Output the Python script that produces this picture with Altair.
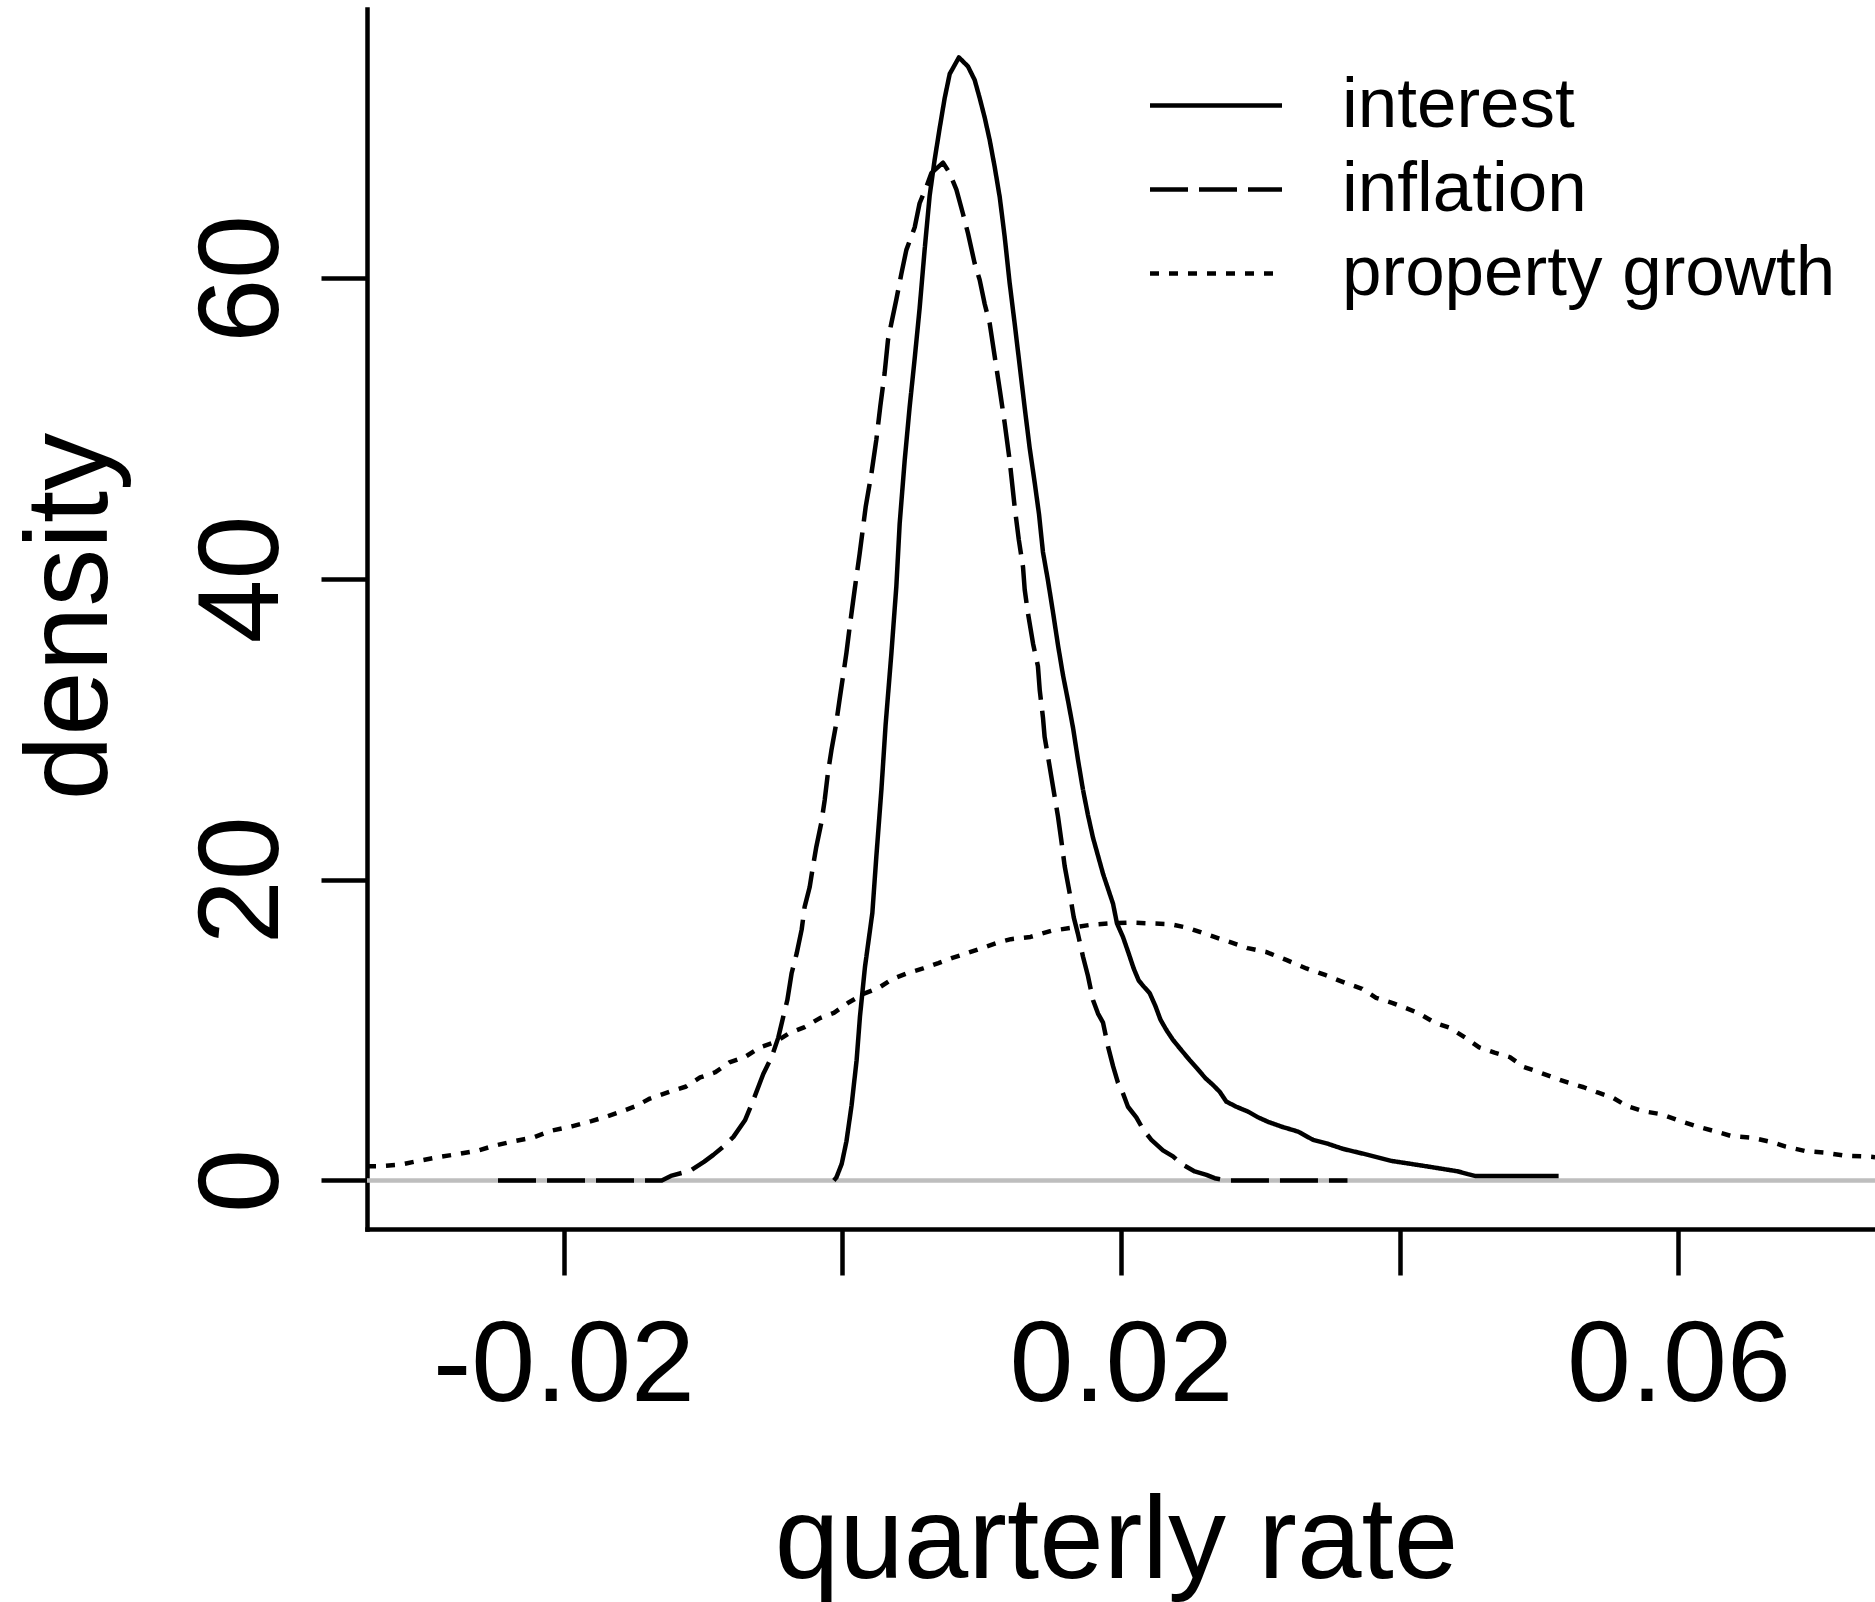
import altair as alt
import pandas as pd

# Kernel density estimates of quarterly rates: (rate, density) pairs per series
interest = [
    (-0.0006, 0.0), (-0.00042, 0.2), (-0.00004, 1.1), (0.0003, 2.6), (0.00067, 5.0),
    (0.00103, 8.0), (0.00127, 10.9), (0.00163, 14.2), (0.00216, 17.8), (0.00245, 21.6),
    (0.00281, 26.0), (0.00311, 30.3), (0.00352, 35.0), (0.00388, 39.5), (0.00412, 43.7),
    (0.00448, 47.9), (0.00483, 51.4), (0.0052, 54.7), (0.00555, 58.0), (0.00591, 61.9),
    (0.00627, 65.5), (0.00663, 67.9), (0.00699, 70.0), (0.00735, 72.0), (0.00771, 73.6),
    (0.00837, 74.7), (0.00902, 74.1), (0.0095, 73.2), (0.00986, 72.0), (0.01022, 70.7),
    (0.01058, 69.2), (0.01094, 67.4), (0.0113, 65.4), (0.01165, 62.8), (0.01201, 59.7),
    (0.01237, 57.0), (0.01273, 54.2), (0.01309, 51.4), (0.01345, 48.7), (0.01381, 46.4),
    (0.01412, 44.3), (0.0144, 41.8), (0.01476, 39.9), (0.01512, 37.8), (0.01548, 35.6),
    (0.01584, 33.6), (0.0162, 31.9), (0.01656, 30.1), (0.01691, 28.0), (0.01727, 26.0),
    (0.01763, 24.3), (0.01799, 22.8), (0.01835, 21.6), (0.01871, 20.4), (0.01907, 19.4),
    (0.01943, 18.4), (0.01971, 17.1), (0.02014, 16.2), (0.02055, 15.1), (0.02091, 14.1),
    (0.02127, 13.3), (0.02163, 12.9), (0.02206, 12.45), (0.02247, 11.6), (0.02283, 10.7),
    (0.02326, 10.0), (0.02373, 9.35), (0.02421, 8.8), (0.02493, 8.0), (0.02545, 7.46),
    (0.02606, 6.8), (0.0266, 6.35), (0.02708, 5.9), (0.02756, 5.24), (0.02828, 4.9),
    (0.02911, 4.58), (0.02983, 4.2), (0.03055, 3.9), (0.03151, 3.58), (0.0327, 3.25),
    (0.03378, 2.7), (0.03474, 2.47), (0.03593, 2.1), (0.03773, 1.7), (0.0394, 1.3),
    (0.04179, 0.96), (0.04413, 0.61), (0.0454, 0.3), (0.0514, 0.3),
]

inflation = [
    (-0.0247, 0.0), (-0.01295, 0.0), (-0.0123, 0.3), (-0.0109, 0.65), (-0.0099, 1.25),
    (-0.00925, 1.7), (-0.00853, 2.25), (-0.00781, 2.9), (-0.00698, 4.0), (-0.00638, 5.35),
    (-0.00566, 7.1), (-0.00507, 8.2), (-0.00459, 9.5), (-0.00423, 10.9), (-0.00394, 12.0),
    (-0.00363, 13.8), (-0.00327, 15.1), (-0.00291, 16.7), (-0.0027, 18.2), (-0.00234, 19.5),
    (-0.0021, 20.9), (-0.00186, 22.2), (-0.0015, 23.8), (-0.00126, 25.3), (-0.00103, 27.1),
    (-0.00078, 28.6), (-0.00047, 30.2), (-0.00019, 32.0), (0.00005, 33.5), (0.0003, 35.1),
    (0.00053, 36.8), (0.00089, 39.3), (0.00125, 41.7), (0.00168, 44.8), (0.00209, 47.0),
    (0.00245, 49.3), (0.00273, 51.5), (0.00304, 53.7), (0.00328, 55.9), (0.00352, 57.0),
    (0.00388, 58.6), (0.00424, 60.3), (0.0046, 61.9), (0.0052, 63.4), (0.00555, 65.0),
    (0.00604, 66.1), (0.00639, 67.0), (0.00723, 67.7), (0.00771, 67.0), (0.00819, 65.9),
    (0.00866, 64.3), (0.00902, 63.0), (0.0095, 61.0), (0.00986, 59.9), (0.01022, 58.3),
    (0.01058, 57.0), (0.01094, 54.8), (0.0113, 52.6), (0.01165, 50.4), (0.01201, 47.9),
    (0.01237, 44.8), (0.01267, 42.6), (0.01297, 40.8), (0.01309, 39.3), (0.01333, 37.7),
    (0.01369, 35.7), (0.01404, 34.2), (0.01417, 32.6), (0.0144, 30.8), (0.01452, 29.5),
    (0.01476, 28.2), (0.01512, 26.2), (0.01548, 24.2), (0.01572, 22.6), (0.01596, 20.9),
    (0.01632, 19.1), (0.01661, 17.5), (0.01691, 16.4), (0.01727, 14.9), (0.01763, 13.6),
    (0.01799, 12.0), (0.01835, 11.1), (0.01871, 10.5), (0.01907, 8.9), (0.01943, 7.6),
    (0.01978, 6.5), (0.02014, 5.8), (0.0205, 4.9), (0.0211, 4.2), (0.02158, 3.4),
    (0.02218, 2.7), (0.02301, 2.0), (0.02373, 1.6), (0.02433, 1.1), (0.02529, 0.6),
    (0.02613, 0.37), (0.02672, 0.15), (0.0276, 0.0), (0.03625, 0.0),
]

property_growth = [
    (-0.0341, 0.95), (-0.0332, 0.95), (-0.0317, 1.05), (-0.0304, 1.3), (-0.029, 1.55),
    (-0.0276, 1.75), (-0.0261, 2.0), (-0.025, 2.3), (-0.0236, 2.6), (-0.0222, 2.85),
    (-0.0209, 3.3), (-0.0194, 3.6), (-0.018, 3.95), (-0.0169, 4.25), (-0.0158, 4.6),
    (-0.0148, 4.95), (-0.0138, 5.45), (-0.0124, 5.9), (-0.0112, 6.25), (-0.0102, 6.85),
    (-0.0091, 7.2), (-0.0081, 7.85), (-0.007, 8.2), (-0.0059, 8.85), (-0.0048, 9.2),
    (-0.0038, 9.8), (-0.0027, 10.2), (-0.0016, 10.8), (-0.0006, 11.15), (0.0004, 11.8),
    (0.0015, 12.4), (0.0026, 12.8), (0.0036, 13.4), (0.0047, 13.8), (0.0058, 14.1),
    (0.0069, 14.45), (0.0079, 14.8), (0.0089, 15.1), (0.01, 15.45), (0.0111, 15.8),
    (0.0121, 16.05), (0.0135, 16.2), (0.015, 16.6), (0.0164, 16.8), (0.0178, 17.0),
    (0.0192, 17.1), (0.0206, 17.15), (0.0221, 17.1), (0.0235, 17.05), (0.0248, 16.8),
    (0.0259, 16.45), (0.027, 16.1), (0.028, 15.8), (0.0291, 15.45), (0.0304, 15.2),
    (0.0319, 14.65), (0.0333, 14.1), (0.0347, 13.65), (0.0362, 13.1), (0.0373, 12.75),
    (0.0383, 12.15), (0.0395, 11.8), (0.0405, 11.45), (0.0414, 11.1), (0.0425, 10.5),
    (0.0436, 10.15), (0.0447, 9.5), (0.0457, 8.85), (0.0468, 8.5), (0.0479, 8.2),
    (0.0489, 7.55), (0.05, 7.2), (0.051, 6.85), (0.0521, 6.5), (0.0532, 6.2),
    (0.0542, 5.85), (0.0553, 5.5), (0.0563, 4.95), (0.0575, 4.6), (0.0588, 4.4),
    (0.0603, 3.9), (0.0613, 3.6), (0.0627, 3.25), (0.0638, 2.95), (0.0652, 2.85),
    (0.0667, 2.55), (0.0677, 2.25), (0.0691, 1.95), (0.0705, 1.85), (0.0719, 1.65),
    (0.0734, 1.6), (0.0741, 1.55),
]

series_names = ["interest", "inflation", "property growth"]
x_ticks = [-0.02, 0.0, 0.02, 0.04, 0.06]
y_ticks = [0, 20, 40, 60]

rows = []
for name, pts in zip(series_names, [interest, inflation, property_growth]):
    for rate, dens in pts:
        rows.append({"rate": rate, "density": dens, "series": name})
df = pd.DataFrame(rows)

FONT = "Liberation Sans"
LW = 4.5

x_scale = alt.Scale(domain=[-0.0341, 0.0741], nice=False, zero=False)
y_scale = alt.Scale(domain=[-3.23, 77.92], nice=False, zero=False)

x_axis = alt.Axis(
    values=x_ticks,
    title="quarterly rate",
    labelExpr="round(datum.value * 100) % 4 == 0 ? '' : "
              "(datum.value < 0 ? '-' : '') + format(abs(datum.value), '.2f')",
    grid=False,
    domainColor="black", domainWidth=LW, domainCap="square",
    tickColor="black", tickWidth=LW, tickSize=46,
    labelFont=FONT, labelFontSize=115, labelColor="black",
    labelPadding=34, labelBaseline="top", labelAlign="center",
    labelFlush=False, labelOverlap=False, labelLimit=0,
    titleFont=FONT, titleFontSize=116, titleFontWeight="normal", titleColor="black",
    titleX=749, titleY=348, titleBaseline="alphabetic", titleAlign="center",
    titleLimit=0,
)

y_axis = alt.Axis(
    values=y_ticks,
    title="density",
    grid=False,
    domainColor="black", domainWidth=LW, domainCap="square",
    tickColor="black", tickWidth=LW, tickSize=46,
    labelFont=FONT, labelFontSize=115, labelColor="black",
    labelAngle=270, labelAlign="center", labelBaseline="alphabetic",
    labelPadding=44, labelFlush=False, labelOverlap=False, labelLimit=0,
    titleFont=FONT, titleFontSize=116, titleFontWeight="normal", titleColor="black",
    titleAngle=270, titleX=-261, titleY=607, titleBaseline="alphabetic", titleAlign="center",
    titleLimit=0,
)

y_enc = alt.Y("density:Q", scale=y_scale, axis=y_axis)

legend = alt.Legend(
    orient="none", legendX=780.5, legendY=59.5, padding=0, title=None,
    symbolType="stroke", symbolSize=17424, symbolStrokeWidth=LW,
    symbolStrokeColor="black", symbolOffset=0,
    labelFont=FONT, labelFontSize=71, labelColor="black", labelOffset=57.5,
    labelLimit=0, clipHeight=74, rowPadding=10, direction="vertical",
)

zero_line = alt.Chart(pd.DataFrame({"density": [0]})).mark_rule(
    color="#bebebe", strokeWidth=LW
).encode(y=y_enc)

curves = alt.Chart(df).mark_line(
    color="black", strokeWidth=LW, clip=True, strokeJoin="round"
).encode(
    x=alt.X("rate:Q", scale=x_scale, axis=x_axis),
    y=y_enc,
    strokeDash=alt.StrokeDash(
        "series:N",
        scale=alt.Scale(domain=series_names, range=[[1, 0], [38, 11], [9, 10]]),
        legend=legend,
    ),
)

chart = alt.layer(zero_line, curves).properties(
    width=1508,
    height=1220,
    autosize=alt.AutoSizeParams(type="none"),
    padding={"left": 367, "top": 9, "right": 0, "bottom": 373},
    background="white",
).configure_view(stroke=None)

chart.save("out.html", embed_options={"renderer": "svg", "actions": False})
